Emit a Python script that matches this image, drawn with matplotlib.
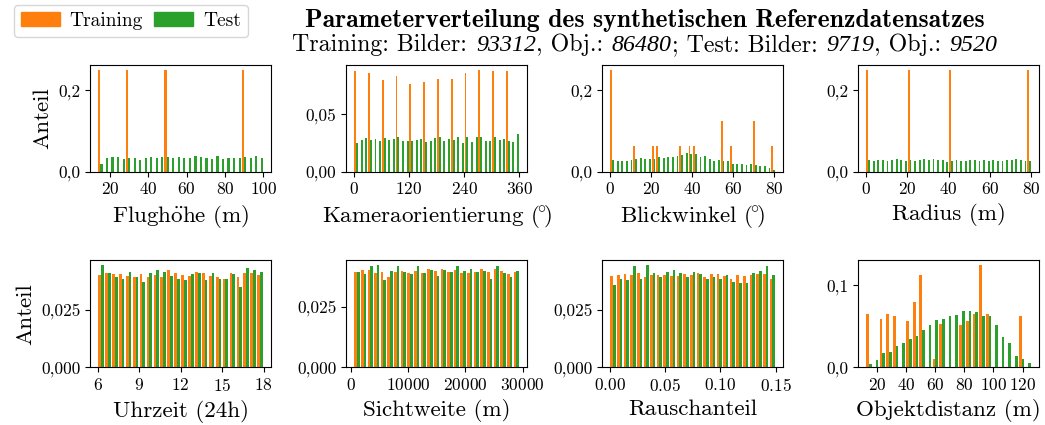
import numpy as np
import matplotlib
matplotlib.use('Agg')
import matplotlib.pyplot as plt
from matplotlib.patches import Patch
from matplotlib.ticker import FuncFormatter

plt.rcParams['font.family'] = ['cmr10', 'DejaVu Serif']
plt.rcParams['mathtext.fontset'] = 'cm'
plt.rcParams['axes.formatter.use_mathtext'] = True
plt.rcParams['axes.unicode_minus'] = False

c_train = '#ff7f0e'
c_test = '#2ca02c'

# counts for the subtitle
n_img_train, n_obj_train = 93312, 86480
n_img_test, n_obj_test = 9719, 9520

# --- Flughoehe (30 bins) ---
height_range = (13.5, 100.0)
train_height_bins = [0, 5, 12, 26]
train_height_share = [0.25, 0.25, 0.25, 0.25]
test_height = [0.019, 0.033, 0.035, 0.035, 0.030, 0.033, 0.033, 0.028, 0.033, 0.035,
               0.033, 0.035, 0.035, 0.033, 0.035, 0.033, 0.033, 0.038, 0.035, 0.033,
               0.030, 0.038, 0.030, 0.033, 0.033, 0.033, 0.035, 0.033, 0.038, 0.033]

# --- Kameraorientierung (36 bins) ---
yaw_range = (0.0, 360.0)
train_yaw_bins = [0, 3, 6, 9, 12, 15, 18, 21, 24, 27, 30, 33]
train_yaw_share = [0.0875, 0.0858, 0.0797, 0.0831, 0.0762, 0.0779,
                   0.0805, 0.0805, 0.0858, 0.0884, 0.0875, 0.0875]
test_yaw = [0.0247, 0.0273, 0.0291, 0.0273, 0.0282, 0.0265, 0.0291, 0.0273, 0.0282,
            0.0299, 0.0265, 0.0265, 0.0265, 0.0273, 0.0282, 0.0256, 0.0265, 0.0291,
            0.0299, 0.0265, 0.0282, 0.0273, 0.0299, 0.0247, 0.0299, 0.0256, 0.0299,
            0.0299, 0.0265, 0.0265, 0.0299, 0.0273, 0.0282, 0.0265, 0.0256, 0.0326]

# --- Blickwinkel (36 bins) ---
pitch_range = (0.0, 80.7)
train_pitch_bins = [0, 5, 9, 10, 15, 17, 18, 24, 26, 31, 35]
train_pitch_share = [0.25, 0.0625, 0.0625, 0.0625, 0.0625, 0.0625,
                     0.0625, 0.125, 0.0625, 0.125, 0.0625]
test_pitch = [0.028, 0.025, 0.025, 0.025, 0.028, 0.030, 0.033, 0.030, 0.030, 0.030,
              0.035, 0.033, 0.035, 0.035, 0.038, 0.040, 0.045, 0.043, 0.043, 0.035,
              0.038, 0.030, 0.025, 0.028, 0.025, 0.025, 0.018, 0.018, 0.018, 0.016,
              0.018, 0.016, 0.013, 0.013, 0.008, 0.003]

# --- Radius (36 bins) ---
radius_range = (0.0, 80.0)
train_radius_bins = [0, 9, 18, 35]
train_radius_share = [0.25, 0.25, 0.25, 0.25]
test_radius = [0.029, 0.027, 0.029, 0.029, 0.027, 0.029, 0.031, 0.029, 0.027, 0.029,
               0.027, 0.029, 0.031, 0.029, 0.031, 0.029, 0.029, 0.024, 0.027, 0.029,
               0.027, 0.027, 0.029, 0.029, 0.027, 0.029, 0.027, 0.029, 0.027, 0.027,
               0.029, 0.029, 0.031, 0.029, 0.027, 0.027]

# --- Uhrzeit (24 bins) ---
time_range = (6.0, 18.0)
train_time = [0.0401, 0.0409, 0.0405, 0.0405, 0.0396, 0.0392, 0.0405, 0.0392,
              0.0401, 0.0392, 0.0423, 0.0409, 0.0401, 0.0396, 0.0414, 0.0409,
              0.0396, 0.0392, 0.0387, 0.0409, 0.0392, 0.0409, 0.0409, 0.0401]
test_time = [0.0444, 0.0409, 0.0392, 0.0387, 0.0414, 0.0392, 0.0374, 0.0409,
             0.0423, 0.0414, 0.0396, 0.0383, 0.0379, 0.0405, 0.0409, 0.0379,
             0.0409, 0.0387, 0.0383, 0.0405, 0.0352, 0.0431, 0.0423, 0.0414]

# --- Sichtweite (25 bins) ---
vis_range = (470.0, 29470.0)
train_vis = [0.0395, 0.0403, 0.0403, 0.0387, 0.0391, 0.0374, 0.0395, 0.0399, 0.0387,
             0.0399, 0.0387, 0.0407, 0.0399, 0.0407, 0.0395, 0.0403, 0.0387, 0.0387,
             0.0391, 0.0407, 0.0395, 0.0407, 0.0399, 0.0383, 0.0395]
test_vis = [0.0391, 0.0383, 0.0416, 0.0420, 0.0358, 0.0399, 0.0416, 0.0395, 0.0383,
            0.0416, 0.0387, 0.0403, 0.0378, 0.0403, 0.0391, 0.0416, 0.0399, 0.0407,
            0.0395, 0.0399, 0.0366, 0.0416, 0.0387, 0.0374, 0.0399]

# --- Rauschanteil (25 bins) ---
noise_range = (0.0, 0.15)
train_noise = [0.0396, 0.0401, 0.0405, 0.0401, 0.0409, 0.0392, 0.0401, 0.0401, 0.0401,
               0.0396, 0.0396, 0.0405, 0.0401, 0.0409, 0.0392, 0.0405, 0.0405, 0.0396,
               0.0383, 0.0401, 0.0396, 0.0401, 0.0405, 0.0405, 0.0387]
test_noise = [0.0357, 0.0383, 0.0379, 0.0440, 0.0387, 0.0444, 0.0409, 0.0392, 0.0414,
              0.0423, 0.0409, 0.0392, 0.0414, 0.0405, 0.0387, 0.0392, 0.0383, 0.0401,
              0.0374, 0.0366, 0.0366, 0.0409, 0.0418, 0.0440, 0.0401]

# --- Objektdistanz (25 bins) ---
dist_range = (12.0, 126.3)
train_dist_bins = [0, 2, 3, 4, 6, 7, 8, 10, 11, 14, 15, 16, 17, 18, 23]
train_dist_share = [0.065, 0.059, 0.065, 0.063, 0.056, 0.080, 0.112, 0.010,
                    0.053, 0.052, 0.056, 0.065, 0.124, 0.065, 0.062]
test_dist = [0.004, 0.009, 0.017, 0.019, 0.026, 0.030, 0.035, 0.038, 0.046, 0.052,
             0.057, 0.059, 0.062, 0.064, 0.068, 0.069, 0.067, 0.062, 0.062, 0.051,
             0.037, 0.029, 0.014, 0.010, 0.005]


def sparse(n, bins, share):
    arr = np.zeros(n)
    arr[bins] = share
    return arr


deg = r'$(\!^{\circ}\!)$'

panels = [
    (r'Flugh$\ddot{\mathrm{o}}$he (m)', height_range,
     sparse(30, train_height_bins, train_height_share), test_height,
     [20, 40, 60, 80, 100], [0, 0.2], 1),
    ('Kameraorientierung ' + deg, yaw_range,
     sparse(36, train_yaw_bins, train_yaw_share), test_yaw,
     [0, 120, 240, 360], [0, 0.05], 2),
    ('Blickwinkel ' + deg, pitch_range,
     sparse(36, train_pitch_bins, train_pitch_share), test_pitch,
     [0, 20, 40, 60, 80], [0, 0.2], 1),
    ('Radius (m)', radius_range,
     sparse(36, train_radius_bins, train_radius_share), test_radius,
     [0, 20, 40, 60, 80], [0, 0.2], 1),
    ('Uhrzeit (24h)', time_range, train_time, test_time,
     [6, 9, 12, 15, 18], [0, 0.025], 3),
    ('Sichtweite (m)', vis_range, train_vis, test_vis,
     [0, 10000, 20000, 30000], [0, 0.025], 3),
    ('Rauschanteil', noise_range, train_noise, test_noise,
     [0.0, 0.05, 0.10, 0.15], [0, 0.025], 3),
    ('Objektdistanz (m)', dist_range,
     sparse(25, train_dist_bins, train_dist_share), test_dist,
     [20, 40, 60, 80, 100, 120], [0, 0.1], 1),
]

fig, axes = plt.subplots(2, 4, figsize=(10.45, 4.25), dpi=100)
fig.subplots_adjust(left=0.0861, right=0.9945, bottom=0.1358, top=0.8478,
                    wspace=0.414, hspace=0.83)

for ax, (label, rng, train, test, xt, yt, dec) in zip(axes.flat, panels):
    n = len(test)
    edges = np.linspace(rng[0], rng[1], n + 1)
    mids = 0.5 * (edges[:-1] + edges[1:])
    ax.hist([mids, mids], bins=edges, weights=[np.asarray(train), np.asarray(test)],
            color=[c_train, c_test])
    ax.set_xticks(xt)
    ax.set_yticks(yt)
    ax.yaxis.set_major_formatter(
        FuncFormatter(lambda v, p, d=dec: f'{v:.{d}f}'.replace('.', ',')))
    ax.tick_params(labelsize=12.5)
    ax.set_xlabel(label, fontsize=16.6)

axes[0, 0].set_ylabel('Anteil', fontsize=16.6)
axes[1, 0].set_ylabel('Anteil', fontsize=16.6)

fig.legend(handles=[Patch(color=c_train, label='Training'),
                    Patch(color=c_test, label='Test')],
           loc='upper left', bbox_to_anchor=(14 / 1045, 1 - 5 / 425),
           borderaxespad=0, ncol=2, fontsize=14, handlelength=2.0,
           columnspacing=0.6, handletextpad=0.5, borderpad=0.35)

fig.text(645 / 1045, 1 - 20.5 / 425,
         'Parameterverteilung des synthetischen Referenzdatensatzes',
         family='cmb10', fontsize=18.5, ha='center', va='center')

# subtitle with italic numbers, built from pieces placed side by side
sub_size = 17.2
pieces = [('Training: Bilder:', False, True), (str(n_img_train), True, False),
          (', Obj.:', False, True), (str(n_obj_train), True, False),
          ('; Test: Bilder:', False, True), (str(n_img_test), True, False),
          (', Obj.:', False, True), (str(n_obj_test), True, False)]
sub_y = 1 - 51 / 425
texts = []
for s, ital, gap in pieces:
    if ital:
        t = fig.text(0, sub_y, s, family='Liberation Serif', style='italic',
                     fontsize=sub_size, va='baseline', ha='left')
    else:
        t = fig.text(0, sub_y, s, fontsize=sub_size, va='baseline', ha='left')
    texts.append((t, gap))
r = fig.canvas.get_renderer()
space = 0.36 * sub_size * fig.dpi / 72
widths = [t.get_window_extent(renderer=r).width + (space if g else 0)
          for t, g in texts]
fig_w = fig.get_figwidth() * fig.dpi
x = 645 - sum(widths) / 2
for (t, g), w in zip(texts, widths):
    t.set_position((x / fig_w, sub_y))
    x += w

fig.savefig('out.png', dpi=100)
